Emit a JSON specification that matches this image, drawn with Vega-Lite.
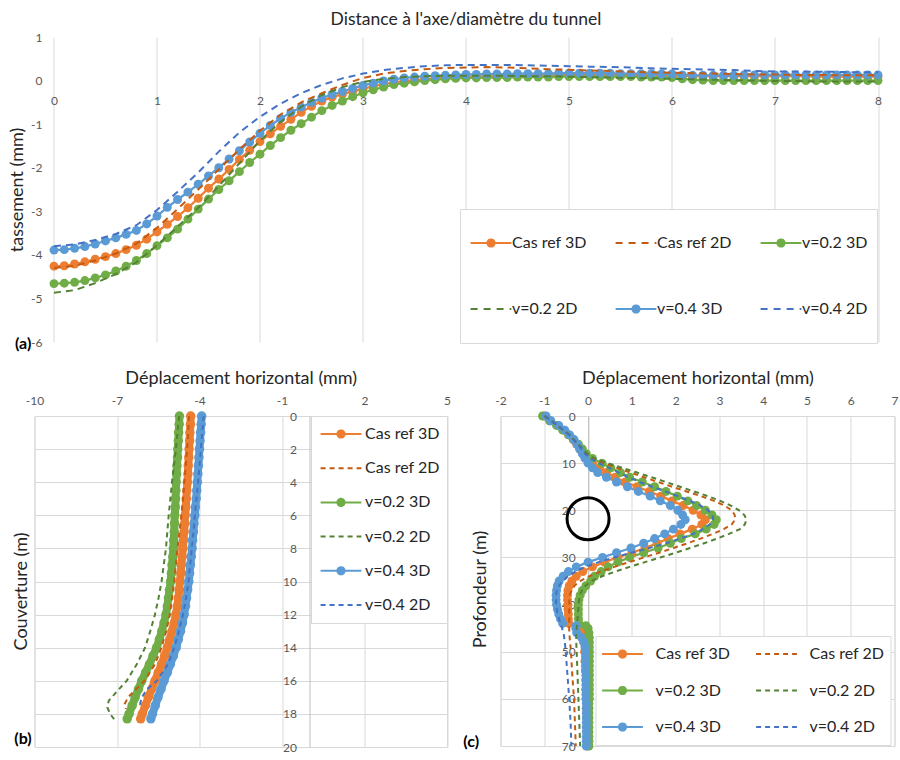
{
"$schema":"https://vega.github.io/schema/vega-lite/v6.json",
"background":"white",
"padding":{"left":8.5,"top":10,"right":2,"bottom":2},
"columns":1,
"align":"none",
"bounds":"full",
"spacing":15,
"resolve":{"scale":{"color":"independent"}},
"config":{
 "font":"Lato",
 "view":{"stroke":"#d9d9d9"},
 "axis":{"gridColor":"#d9d9d9","domainColor":"#bfbfbf","labelColor":"#595959","labelFontSize":12,"titleFontSize":18,"titleFontWeight":"normal","titleColor":"#262626","ticks":false,"tickSize":0,"labelFlush":false,"labelOverlap":false,"labelExpr":"datum.value < 0 ? '-' + abs(datum.value) : '' + datum.value"},
 "legend":{"labelFontSize":16,"labelColor":"#262626","strokeColor":"#d9d9d9","fillColor":"white","orient":"none","symbolSize":1600,"symbolStrokeWidth":2},
 "title":{"fontSize":17.5,"fontWeight":"normal","color":"#262626"}
},
"datasets":{
"a3":[
{"s":"Cas ref 3D","x":0,"y":-4.26},{"s":"Cas ref 3D","x":0.1,"y":-4.25},{"s":"Cas ref 3D","x":0.2,"y":-4.21},{"s":"Cas ref 3D","x":0.3,"y":-4.16},{"s":"Cas ref 3D","x":0.4,"y":-4.1},{"s":"Cas ref 3D","x":0.5,"y":-4.04},{"s":"Cas ref 3D","x":0.6,"y":-3.97},{"s":"Cas ref 3D","x":0.7,"y":-3.88},{"s":"Cas ref 3D","x":0.8,"y":-3.78},{"s":"Cas ref 3D","x":0.9,"y":-3.64},
{"s":"Cas ref 3D","x":1,"y":-3.47},{"s":"Cas ref 3D","x":1.1,"y":-3.3},{"s":"Cas ref 3D","x":1.2,"y":-3.12},{"s":"Cas ref 3D","x":1.3,"y":-2.92},{"s":"Cas ref 3D","x":1.4,"y":-2.7},{"s":"Cas ref 3D","x":1.5,"y":-2.47},{"s":"Cas ref 3D","x":1.6,"y":-2.26},{"s":"Cas ref 3D","x":1.7,"y":-2.04},{"s":"Cas ref 3D","x":1.8,"y":-1.81},{"s":"Cas ref 3D","x":1.9,"y":-1.6},
{"s":"Cas ref 3D","x":2,"y":-1.4},{"s":"Cas ref 3D","x":2.1,"y":-1.22},{"s":"Cas ref 3D","x":2.2,"y":-1.05},{"s":"Cas ref 3D","x":2.3,"y":-0.89},{"s":"Cas ref 3D","x":2.4,"y":-0.73},{"s":"Cas ref 3D","x":2.5,"y":-0.59},{"s":"Cas ref 3D","x":2.6,"y":-0.47},{"s":"Cas ref 3D","x":2.7,"y":-0.38},{"s":"Cas ref 3D","x":2.8,"y":-0.31},{"s":"Cas ref 3D","x":2.9,"y":-0.25},
{"s":"Cas ref 3D","x":3,"y":-0.19},{"s":"Cas ref 3D","x":3.1,"y":-0.13},{"s":"Cas ref 3D","x":3.2,"y":-0.08},{"s":"Cas ref 3D","x":3.3,"y":-0.04},{"s":"Cas ref 3D","x":3.4,"y":-0.01},{"s":"Cas ref 3D","x":3.5,"y":0.01},{"s":"Cas ref 3D","x":3.6,"y":0.03},{"s":"Cas ref 3D","x":3.7,"y":0.05},{"s":"Cas ref 3D","x":3.8,"y":0.06},{"s":"Cas ref 3D","x":3.9,"y":0.07},
{"s":"Cas ref 3D","x":4,"y":0.08},{"s":"Cas ref 3D","x":4.1,"y":0.09},{"s":"Cas ref 3D","x":4.2,"y":0.09},{"s":"Cas ref 3D","x":4.3,"y":0.1},{"s":"Cas ref 3D","x":4.4,"y":0.1},{"s":"Cas ref 3D","x":4.5,"y":0.11},{"s":"Cas ref 3D","x":4.6,"y":0.11},{"s":"Cas ref 3D","x":4.7,"y":0.12},{"s":"Cas ref 3D","x":4.8,"y":0.12},{"s":"Cas ref 3D","x":4.9,"y":0.12},
{"s":"Cas ref 3D","x":5,"y":0.13},{"s":"Cas ref 3D","x":5.1,"y":0.13},{"s":"Cas ref 3D","x":5.2,"y":0.13},{"s":"Cas ref 3D","x":5.3,"y":0.13},{"s":"Cas ref 3D","x":5.4,"y":0.13},{"s":"Cas ref 3D","x":5.5,"y":0.13},{"s":"Cas ref 3D","x":5.6,"y":0.13},{"s":"Cas ref 3D","x":5.7,"y":0.13},{"s":"Cas ref 3D","x":5.8,"y":0.12},{"s":"Cas ref 3D","x":5.9,"y":0.12},
{"s":"Cas ref 3D","x":6,"y":0.12},{"s":"Cas ref 3D","x":6.1,"y":0.11},{"s":"Cas ref 3D","x":6.2,"y":0.1},{"s":"Cas ref 3D","x":6.3,"y":0.1},{"s":"Cas ref 3D","x":6.4,"y":0.1},{"s":"Cas ref 3D","x":6.5,"y":0.1},{"s":"Cas ref 3D","x":6.6,"y":0.1},{"s":"Cas ref 3D","x":6.7,"y":0.1},{"s":"Cas ref 3D","x":6.8,"y":0.1},{"s":"Cas ref 3D","x":6.9,"y":0.1},
{"s":"Cas ref 3D","x":7,"y":0.1},{"s":"Cas ref 3D","x":7.1,"y":0.1},{"s":"Cas ref 3D","x":7.2,"y":0.1},{"s":"Cas ref 3D","x":7.3,"y":0.1},{"s":"Cas ref 3D","x":7.4,"y":0.09},{"s":"Cas ref 3D","x":7.5,"y":0.09},{"s":"Cas ref 3D","x":7.6,"y":0.09},{"s":"Cas ref 3D","x":7.7,"y":0.09},{"s":"Cas ref 3D","x":7.8,"y":0.09},{"s":"Cas ref 3D","x":7.9,"y":0.09},{"s":"Cas ref 3D","x":8,"y":0.09},
{"s":"v=0.2 3D","x":0,"y":-4.66},{"s":"v=0.2 3D","x":0.1,"y":-4.65},{"s":"v=0.2 3D","x":0.2,"y":-4.63},{"s":"v=0.2 3D","x":0.3,"y":-4.59},{"s":"v=0.2 3D","x":0.4,"y":-4.53},{"s":"v=0.2 3D","x":0.5,"y":-4.46},{"s":"v=0.2 3D","x":0.6,"y":-4.37},{"s":"v=0.2 3D","x":0.7,"y":-4.26},{"s":"v=0.2 3D","x":0.8,"y":-4.13},{"s":"v=0.2 3D","x":0.9,"y":-3.97},
{"s":"v=0.2 3D","x":1,"y":-3.79},{"s":"v=0.2 3D","x":1.1,"y":-3.61},{"s":"v=0.2 3D","x":1.2,"y":-3.41},{"s":"v=0.2 3D","x":1.3,"y":-3.18},{"s":"v=0.2 3D","x":1.4,"y":-2.95},{"s":"v=0.2 3D","x":1.5,"y":-2.72},{"s":"v=0.2 3D","x":1.6,"y":-2.5},{"s":"v=0.2 3D","x":1.7,"y":-2.3},{"s":"v=0.2 3D","x":1.8,"y":-2.09},{"s":"v=0.2 3D","x":1.9,"y":-1.88},
{"s":"v=0.2 3D","x":2,"y":-1.69},{"s":"v=0.2 3D","x":2.1,"y":-1.49},{"s":"v=0.2 3D","x":2.2,"y":-1.31},{"s":"v=0.2 3D","x":2.3,"y":-1.14},{"s":"v=0.2 3D","x":2.4,"y":-0.99},{"s":"v=0.2 3D","x":2.5,"y":-0.84},{"s":"v=0.2 3D","x":2.6,"y":-0.69},{"s":"v=0.2 3D","x":2.7,"y":-0.57},{"s":"v=0.2 3D","x":2.8,"y":-0.47},{"s":"v=0.2 3D","x":2.9,"y":-0.37},
{"s":"v=0.2 3D","x":3,"y":-0.28},{"s":"v=0.2 3D","x":3.1,"y":-0.21},{"s":"v=0.2 3D","x":3.2,"y":-0.15},{"s":"v=0.2 3D","x":3.3,"y":-0.09},{"s":"v=0.2 3D","x":3.4,"y":-0.06},{"s":"v=0.2 3D","x":3.5,"y":-0.03},{"s":"v=0.2 3D","x":3.6,"y":0},{"s":"v=0.2 3D","x":3.7,"y":0.02},{"s":"v=0.2 3D","x":3.8,"y":0.04},{"s":"v=0.2 3D","x":3.9,"y":0.05},
{"s":"v=0.2 3D","x":4,"y":0.06},{"s":"v=0.2 3D","x":4.1,"y":0.06},{"s":"v=0.2 3D","x":4.2,"y":0.07},{"s":"v=0.2 3D","x":4.3,"y":0.07},{"s":"v=0.2 3D","x":4.4,"y":0.07},{"s":"v=0.2 3D","x":4.5,"y":0.08},{"s":"v=0.2 3D","x":4.6,"y":0.08},{"s":"v=0.2 3D","x":4.7,"y":0.08},{"s":"v=0.2 3D","x":4.8,"y":0.08},{"s":"v=0.2 3D","x":4.9,"y":0.09},
{"s":"v=0.2 3D","x":5,"y":0.09},{"s":"v=0.2 3D","x":5.1,"y":0.09},{"s":"v=0.2 3D","x":5.2,"y":0.09},{"s":"v=0.2 3D","x":5.3,"y":0.09},{"s":"v=0.2 3D","x":5.4,"y":0.09},{"s":"v=0.2 3D","x":5.5,"y":0.09},{"s":"v=0.2 3D","x":5.6,"y":0.09},{"s":"v=0.2 3D","x":5.7,"y":0.08},{"s":"v=0.2 3D","x":5.8,"y":0.08},{"s":"v=0.2 3D","x":5.9,"y":0.08},
{"s":"v=0.2 3D","x":6,"y":0.07},{"s":"v=0.2 3D","x":6.1,"y":0.04},{"s":"v=0.2 3D","x":6.2,"y":0.02},{"s":"v=0.2 3D","x":6.3,"y":0.01},{"s":"v=0.2 3D","x":6.4,"y":0},{"s":"v=0.2 3D","x":6.5,"y":0},{"s":"v=0.2 3D","x":6.6,"y":0},{"s":"v=0.2 3D","x":6.7,"y":0},{"s":"v=0.2 3D","x":6.8,"y":0},{"s":"v=0.2 3D","x":6.9,"y":0},
{"s":"v=0.2 3D","x":7,"y":0},{"s":"v=0.2 3D","x":7.1,"y":0},{"s":"v=0.2 3D","x":7.2,"y":0},{"s":"v=0.2 3D","x":7.3,"y":0},{"s":"v=0.2 3D","x":7.4,"y":0},{"s":"v=0.2 3D","x":7.5,"y":0},{"s":"v=0.2 3D","x":7.6,"y":0},{"s":"v=0.2 3D","x":7.7,"y":0},{"s":"v=0.2 3D","x":7.8,"y":0},{"s":"v=0.2 3D","x":7.9,"y":0},{"s":"v=0.2 3D","x":8,"y":0},
{"s":"v=0.4 3D","x":0,"y":-3.89},{"s":"v=0.4 3D","x":0.1,"y":-3.88},{"s":"v=0.4 3D","x":0.2,"y":-3.85},{"s":"v=0.4 3D","x":0.3,"y":-3.81},{"s":"v=0.4 3D","x":0.4,"y":-3.75},{"s":"v=0.4 3D","x":0.5,"y":-3.68},{"s":"v=0.4 3D","x":0.6,"y":-3.61},{"s":"v=0.4 3D","x":0.7,"y":-3.53},{"s":"v=0.4 3D","x":0.8,"y":-3.44},{"s":"v=0.4 3D","x":0.9,"y":-3.29},
{"s":"v=0.4 3D","x":1,"y":-3.11},{"s":"v=0.4 3D","x":1.1,"y":-2.91},{"s":"v=0.4 3D","x":1.2,"y":-2.73},{"s":"v=0.4 3D","x":1.3,"y":-2.56},{"s":"v=0.4 3D","x":1.4,"y":-2.38},{"s":"v=0.4 3D","x":1.5,"y":-2.19},{"s":"v=0.4 3D","x":1.6,"y":-2},{"s":"v=0.4 3D","x":1.7,"y":-1.8},{"s":"v=0.4 3D","x":1.8,"y":-1.61},{"s":"v=0.4 3D","x":1.9,"y":-1.41},
{"s":"v=0.4 3D","x":2,"y":-1.21},{"s":"v=0.4 3D","x":2.1,"y":-1.03},{"s":"v=0.4 3D","x":2.2,"y":-0.87},{"s":"v=0.4 3D","x":2.3,"y":-0.73},{"s":"v=0.4 3D","x":2.4,"y":-0.61},{"s":"v=0.4 3D","x":2.5,"y":-0.5},{"s":"v=0.4 3D","x":2.6,"y":-0.4},{"s":"v=0.4 3D","x":2.7,"y":-0.32},{"s":"v=0.4 3D","x":2.8,"y":-0.25},{"s":"v=0.4 3D","x":2.9,"y":-0.18},
{"s":"v=0.4 3D","x":3,"y":-0.11},{"s":"v=0.4 3D","x":3.1,"y":-0.06},{"s":"v=0.4 3D","x":3.2,"y":-0.01},{"s":"v=0.4 3D","x":3.3,"y":0.03},{"s":"v=0.4 3D","x":3.4,"y":0.06},{"s":"v=0.4 3D","x":3.5,"y":0.08},{"s":"v=0.4 3D","x":3.6,"y":0.1},{"s":"v=0.4 3D","x":3.7,"y":0.11},{"s":"v=0.4 3D","x":3.8,"y":0.12},{"s":"v=0.4 3D","x":3.9,"y":0.13},
{"s":"v=0.4 3D","x":4,"y":0.14},{"s":"v=0.4 3D","x":4.1,"y":0.14},{"s":"v=0.4 3D","x":4.2,"y":0.15},{"s":"v=0.4 3D","x":4.3,"y":0.15},{"s":"v=0.4 3D","x":4.4,"y":0.15},{"s":"v=0.4 3D","x":4.5,"y":0.16},{"s":"v=0.4 3D","x":4.6,"y":0.16},{"s":"v=0.4 3D","x":4.7,"y":0.16},{"s":"v=0.4 3D","x":4.8,"y":0.16},{"s":"v=0.4 3D","x":4.9,"y":0.17},
{"s":"v=0.4 3D","x":5,"y":0.17},{"s":"v=0.4 3D","x":5.1,"y":0.17},{"s":"v=0.4 3D","x":5.2,"y":0.17},{"s":"v=0.4 3D","x":5.3,"y":0.17},{"s":"v=0.4 3D","x":5.4,"y":0.17},{"s":"v=0.4 3D","x":5.5,"y":0.16},{"s":"v=0.4 3D","x":5.6,"y":0.16},{"s":"v=0.4 3D","x":5.7,"y":0.16},{"s":"v=0.4 3D","x":5.8,"y":0.16},{"s":"v=0.4 3D","x":5.9,"y":0.15},
{"s":"v=0.4 3D","x":6,"y":0.15},{"s":"v=0.4 3D","x":6.1,"y":0.13},{"s":"v=0.4 3D","x":6.2,"y":0.12},{"s":"v=0.4 3D","x":6.3,"y":0.12},{"s":"v=0.4 3D","x":6.4,"y":0.12},{"s":"v=0.4 3D","x":6.5,"y":0.12},{"s":"v=0.4 3D","x":6.6,"y":0.12},{"s":"v=0.4 3D","x":6.7,"y":0.13},{"s":"v=0.4 3D","x":6.8,"y":0.13},{"s":"v=0.4 3D","x":6.9,"y":0.13},
{"s":"v=0.4 3D","x":7,"y":0.13},{"s":"v=0.4 3D","x":7.1,"y":0.13},{"s":"v=0.4 3D","x":7.2,"y":0.13},{"s":"v=0.4 3D","x":7.3,"y":0.13},{"s":"v=0.4 3D","x":7.4,"y":0.13},{"s":"v=0.4 3D","x":7.5,"y":0.13},{"s":"v=0.4 3D","x":7.6,"y":0.13},{"s":"v=0.4 3D","x":7.7,"y":0.13},{"s":"v=0.4 3D","x":7.8,"y":0.13},{"s":"v=0.4 3D","x":7.9,"y":0.13},{"s":"v=0.4 3D","x":8,"y":0.13}
],
"a2":[
{"s":"Cas ref 2D","x":0,"y":-4.3},{"s":"Cas ref 2D","x":0.2,"y":-4.25},{"s":"Cas ref 2D","x":0.4,"y":-4.13},{"s":"Cas ref 2D","x":0.6,"y":-3.97},{"s":"Cas ref 2D","x":0.8,"y":-3.74},{"s":"Cas ref 2D","x":1,"y":-3.38},{"s":"Cas ref 2D","x":1.2,"y":-2.95},{"s":"Cas ref 2D","x":1.4,"y":-2.5},{"s":"Cas ref 2D","x":1.6,"y":-2.04},{"s":"Cas ref 2D","x":1.8,"y":-1.58},
{"s":"Cas ref 2D","x":2,"y":-1.15},{"s":"Cas ref 2D","x":2.2,"y":-0.78},{"s":"Cas ref 2D","x":2.4,"y":-0.5},{"s":"Cas ref 2D","x":2.6,"y":-0.29},{"s":"Cas ref 2D","x":2.8,"y":-0.1},{"s":"Cas ref 2D","x":3,"y":0.06},{"s":"Cas ref 2D","x":3.2,"y":0.16},{"s":"Cas ref 2D","x":3.4,"y":0.22},{"s":"Cas ref 2D","x":3.6,"y":0.26},{"s":"Cas ref 2D","x":3.8,"y":0.29},
{"s":"Cas ref 2D","x":4,"y":0.3},{"s":"Cas ref 2D","x":4.2,"y":0.31},{"s":"Cas ref 2D","x":4.4,"y":0.3},{"s":"Cas ref 2D","x":4.6,"y":0.28},{"s":"Cas ref 2D","x":4.8,"y":0.26},{"s":"Cas ref 2D","x":5,"y":0.25},{"s":"Cas ref 2D","x":5.2,"y":0.23},{"s":"Cas ref 2D","x":5.4,"y":0.22},{"s":"Cas ref 2D","x":5.6,"y":0.2},{"s":"Cas ref 2D","x":5.8,"y":0.19},
{"s":"Cas ref 2D","x":6,"y":0.18},{"s":"Cas ref 2D","x":6.2,"y":0.17},{"s":"Cas ref 2D","x":6.4,"y":0.16},{"s":"Cas ref 2D","x":6.6,"y":0.15},{"s":"Cas ref 2D","x":6.8,"y":0.14},{"s":"Cas ref 2D","x":7,"y":0.14},{"s":"Cas ref 2D","x":7.2,"y":0.13},{"s":"Cas ref 2D","x":7.4,"y":0.13},{"s":"Cas ref 2D","x":7.6,"y":0.12},{"s":"Cas ref 2D","x":7.8,"y":0.12},{"s":"Cas ref 2D","x":8,"y":0.12},
{"s":"v=0.2 2D","x":0,"y":-4.87},{"s":"v=0.2 2D","x":0.2,"y":-4.81},{"s":"v=0.2 2D","x":0.4,"y":-4.65},{"s":"v=0.2 2D","x":0.6,"y":-4.44},{"s":"v=0.2 2D","x":0.8,"y":-4.17},{"s":"v=0.2 2D","x":1,"y":-3.78},{"s":"v=0.2 2D","x":1.2,"y":-3.35},{"s":"v=0.2 2D","x":1.4,"y":-2.92},{"s":"v=0.2 2D","x":1.6,"y":-2.42},{"s":"v=0.2 2D","x":1.8,"y":-1.9},
{"s":"v=0.2 2D","x":2,"y":-1.38},{"s":"v=0.2 2D","x":2.2,"y":-0.95},{"s":"v=0.2 2D","x":2.4,"y":-0.6},{"s":"v=0.2 2D","x":2.6,"y":-0.33},{"s":"v=0.2 2D","x":2.8,"y":-0.15},{"s":"v=0.2 2D","x":3,"y":-0.03},{"s":"v=0.2 2D","x":3.2,"y":0.04},{"s":"v=0.2 2D","x":3.4,"y":0.08},{"s":"v=0.2 2D","x":3.6,"y":0.1},{"s":"v=0.2 2D","x":3.8,"y":0.11},
{"s":"v=0.2 2D","x":4,"y":0.11},{"s":"v=0.2 2D","x":4.2,"y":0.11},{"s":"v=0.2 2D","x":4.4,"y":0.11},{"s":"v=0.2 2D","x":4.6,"y":0.1},{"s":"v=0.2 2D","x":4.8,"y":0.1},{"s":"v=0.2 2D","x":5,"y":0.09},{"s":"v=0.2 2D","x":5.2,"y":0.08},{"s":"v=0.2 2D","x":5.4,"y":0.07},{"s":"v=0.2 2D","x":5.6,"y":0.06},{"s":"v=0.2 2D","x":5.8,"y":0.05},
{"s":"v=0.2 2D","x":6,"y":0.04},{"s":"v=0.2 2D","x":6.2,"y":0.03},{"s":"v=0.2 2D","x":6.4,"y":0.02},{"s":"v=0.2 2D","x":6.6,"y":0.01},{"s":"v=0.2 2D","x":6.8,"y":0},{"s":"v=0.2 2D","x":7,"y":-0.01},{"s":"v=0.2 2D","x":7.2,"y":-0.01},{"s":"v=0.2 2D","x":7.4,"y":-0.02},{"s":"v=0.2 2D","x":7.6,"y":-0.02},{"s":"v=0.2 2D","x":7.8,"y":-0.02},{"s":"v=0.2 2D","x":8,"y":-0.02},
{"s":"v=0.4 2D","x":0,"y":-3.8},{"s":"v=0.4 2D","x":0.2,"y":-3.76},{"s":"v=0.4 2D","x":0.4,"y":-3.66},{"s":"v=0.4 2D","x":0.6,"y":-3.52},{"s":"v=0.4 2D","x":0.8,"y":-3.32},{"s":"v=0.4 2D","x":1,"y":-2.97},{"s":"v=0.4 2D","x":1.2,"y":-2.55},{"s":"v=0.4 2D","x":1.4,"y":-2.11},{"s":"v=0.4 2D","x":1.6,"y":-1.63},{"s":"v=0.4 2D","x":1.8,"y":-1.19},
{"s":"v=0.4 2D","x":2,"y":-0.83},{"s":"v=0.4 2D","x":2.2,"y":-0.53},{"s":"v=0.4 2D","x":2.4,"y":-0.29},{"s":"v=0.4 2D","x":2.6,"y":-0.1},{"s":"v=0.4 2D","x":2.8,"y":0.05},{"s":"v=0.4 2D","x":3,"y":0.16},{"s":"v=0.4 2D","x":3.2,"y":0.24},{"s":"v=0.4 2D","x":3.4,"y":0.29},{"s":"v=0.4 2D","x":3.6,"y":0.33},{"s":"v=0.4 2D","x":3.8,"y":0.35},
{"s":"v=0.4 2D","x":4,"y":0.36},{"s":"v=0.4 2D","x":4.2,"y":0.36},{"s":"v=0.4 2D","x":4.4,"y":0.36},{"s":"v=0.4 2D","x":4.6,"y":0.35},{"s":"v=0.4 2D","x":4.8,"y":0.34},{"s":"v=0.4 2D","x":5,"y":0.33},{"s":"v=0.4 2D","x":5.2,"y":0.32},{"s":"v=0.4 2D","x":5.4,"y":0.31},{"s":"v=0.4 2D","x":5.6,"y":0.3},{"s":"v=0.4 2D","x":5.8,"y":0.28},
{"s":"v=0.4 2D","x":6,"y":0.27},{"s":"v=0.4 2D","x":6.2,"y":0.26},{"s":"v=0.4 2D","x":6.4,"y":0.25},{"s":"v=0.4 2D","x":6.6,"y":0.24},{"s":"v=0.4 2D","x":6.8,"y":0.22},{"s":"v=0.4 2D","x":7,"y":0.21},{"s":"v=0.4 2D","x":7.2,"y":0.21},{"s":"v=0.4 2D","x":7.4,"y":0.2},{"s":"v=0.4 2D","x":7.6,"y":0.2},{"s":"v=0.4 2D","x":7.8,"y":0.19},{"s":"v=0.4 2D","x":8,"y":0.19}
],
"b3":[
{"s":"Cas ref 3D","d":0,"x":-4.32},{"s":"Cas ref 3D","d":0.5,"x":-4.33},{"s":"Cas ref 3D","d":1,"x":-4.35},{"s":"Cas ref 3D","d":1.5,"x":-4.36},{"s":"Cas ref 3D","d":2,"x":-4.38},{"s":"Cas ref 3D","d":2.5,"x":-4.39},{"s":"Cas ref 3D","d":3,"x":-4.41},{"s":"Cas ref 3D","d":3.5,"x":-4.42},{"s":"Cas ref 3D","d":4,"x":-4.44},{"s":"Cas ref 3D","d":4.5,"x":-4.46},
{"s":"Cas ref 3D","d":5,"x":-4.48},{"s":"Cas ref 3D","d":5.5,"x":-4.5},{"s":"Cas ref 3D","d":6,"x":-4.52},{"s":"Cas ref 3D","d":6.5,"x":-4.54},{"s":"Cas ref 3D","d":7,"x":-4.56},{"s":"Cas ref 3D","d":7.5,"x":-4.58},{"s":"Cas ref 3D","d":8,"x":-4.61},{"s":"Cas ref 3D","d":8.5,"x":-4.63},{"s":"Cas ref 3D","d":9,"x":-4.66},{"s":"Cas ref 3D","d":9.5,"x":-4.68},
{"s":"Cas ref 3D","d":10,"x":-4.71},{"s":"Cas ref 3D","d":10.5,"x":-4.74},{"s":"Cas ref 3D","d":11,"x":-4.77},{"s":"Cas ref 3D","d":11.5,"x":-4.81},{"s":"Cas ref 3D","d":12,"x":-4.86},{"s":"Cas ref 3D","d":12.5,"x":-4.92},{"s":"Cas ref 3D","d":13,"x":-5},{"s":"Cas ref 3D","d":13.5,"x":-5.08},{"s":"Cas ref 3D","d":14,"x":-5.17},{"s":"Cas ref 3D","d":14.5,"x":-5.27},
{"s":"Cas ref 3D","d":15,"x":-5.38},{"s":"Cas ref 3D","d":15.5,"x":-5.5},{"s":"Cas ref 3D","d":16,"x":-5.62},{"s":"Cas ref 3D","d":16.5,"x":-5.74},{"s":"Cas ref 3D","d":17,"x":-5.86},{"s":"Cas ref 3D","d":17.5,"x":-5.97},{"s":"Cas ref 3D","d":18,"x":-6.08},{"s":"Cas ref 3D","d":18.3,"x":-6.14},
{"s":"v=0.2 3D","d":0,"x":-4.73},{"s":"v=0.2 3D","d":0.5,"x":-4.74},{"s":"v=0.2 3D","d":1,"x":-4.76},{"s":"v=0.2 3D","d":1.5,"x":-4.77},{"s":"v=0.2 3D","d":2,"x":-4.79},{"s":"v=0.2 3D","d":2.5,"x":-4.8},{"s":"v=0.2 3D","d":3,"x":-4.82},{"s":"v=0.2 3D","d":3.5,"x":-4.83},{"s":"v=0.2 3D","d":4,"x":-4.85},{"s":"v=0.2 3D","d":4.5,"x":-4.86},
{"s":"v=0.2 3D","d":5,"x":-4.87},{"s":"v=0.2 3D","d":5.5,"x":-4.88},{"s":"v=0.2 3D","d":6,"x":-4.9},{"s":"v=0.2 3D","d":6.5,"x":-4.91},{"s":"v=0.2 3D","d":7,"x":-4.92},{"s":"v=0.2 3D","d":7.5,"x":-4.94},{"s":"v=0.2 3D","d":8,"x":-4.95},{"s":"v=0.2 3D","d":8.5,"x":-4.97},{"s":"v=0.2 3D","d":9,"x":-5},{"s":"v=0.2 3D","d":9.5,"x":-5.02},
{"s":"v=0.2 3D","d":10,"x":-5.05},{"s":"v=0.2 3D","d":10.5,"x":-5.09},{"s":"v=0.2 3D","d":11,"x":-5.13},{"s":"v=0.2 3D","d":11.5,"x":-5.17},{"s":"v=0.2 3D","d":12,"x":-5.22},{"s":"v=0.2 3D","d":12.5,"x":-5.29},{"s":"v=0.2 3D","d":13,"x":-5.37},{"s":"v=0.2 3D","d":13.5,"x":-5.46},{"s":"v=0.2 3D","d":14,"x":-5.56},{"s":"v=0.2 3D","d":14.5,"x":-5.69},
{"s":"v=0.2 3D","d":15,"x":-5.82},{"s":"v=0.2 3D","d":15.5,"x":-5.96},{"s":"v=0.2 3D","d":16,"x":-6.1},{"s":"v=0.2 3D","d":16.5,"x":-6.22},{"s":"v=0.2 3D","d":17,"x":-6.34},{"s":"v=0.2 3D","d":17.5,"x":-6.45},{"s":"v=0.2 3D","d":18,"x":-6.56},{"s":"v=0.2 3D","d":18.3,"x":-6.63},
{"s":"v=0.4 3D","d":0,"x":-3.92},{"s":"v=0.4 3D","d":0.5,"x":-3.94},{"s":"v=0.4 3D","d":1,"x":-3.96},{"s":"v=0.4 3D","d":1.5,"x":-3.98},{"s":"v=0.4 3D","d":2,"x":-4},{"s":"v=0.4 3D","d":2.5,"x":-4.02},{"s":"v=0.4 3D","d":3,"x":-4.04},{"s":"v=0.4 3D","d":3.5,"x":-4.06},{"s":"v=0.4 3D","d":4,"x":-4.08},{"s":"v=0.4 3D","d":4.5,"x":-4.1},
{"s":"v=0.4 3D","d":5,"x":-4.12},{"s":"v=0.4 3D","d":5.5,"x":-4.15},{"s":"v=0.4 3D","d":6,"x":-4.17},{"s":"v=0.4 3D","d":6.5,"x":-4.2},{"s":"v=0.4 3D","d":7,"x":-4.22},{"s":"v=0.4 3D","d":7.5,"x":-4.25},{"s":"v=0.4 3D","d":8,"x":-4.27},{"s":"v=0.4 3D","d":8.5,"x":-4.3},{"s":"v=0.4 3D","d":9,"x":-4.33},{"s":"v=0.4 3D","d":9.5,"x":-4.36},
{"s":"v=0.4 3D","d":10,"x":-4.39},{"s":"v=0.4 3D","d":10.5,"x":-4.43},{"s":"v=0.4 3D","d":11,"x":-4.47},{"s":"v=0.4 3D","d":11.5,"x":-4.51},{"s":"v=0.4 3D","d":12,"x":-4.56},{"s":"v=0.4 3D","d":12.5,"x":-4.62},{"s":"v=0.4 3D","d":13,"x":-4.69},{"s":"v=0.4 3D","d":13.5,"x":-4.77},{"s":"v=0.4 3D","d":14,"x":-4.85},{"s":"v=0.4 3D","d":14.5,"x":-4.95},
{"s":"v=0.4 3D","d":15,"x":-5.06},{"s":"v=0.4 3D","d":15.5,"x":-5.17},{"s":"v=0.4 3D","d":16,"x":-5.29},{"s":"v=0.4 3D","d":16.5,"x":-5.4},{"s":"v=0.4 3D","d":17,"x":-5.51},{"s":"v=0.4 3D","d":17.5,"x":-5.61},{"s":"v=0.4 3D","d":18,"x":-5.71},{"s":"v=0.4 3D","d":18.3,"x":-5.77}
],
"b2":[
{"s":"Cas ref 2D","d":0,"x":-4.38},{"s":"Cas ref 2D","d":1,"x":-4.41},{"s":"Cas ref 2D","d":2,"x":-4.45},{"s":"Cas ref 2D","d":3,"x":-4.5},{"s":"Cas ref 2D","d":4,"x":-4.55},{"s":"Cas ref 2D","d":5,"x":-4.6},{"s":"Cas ref 2D","d":6,"x":-4.66},{"s":"Cas ref 2D","d":7,"x":-4.73},{"s":"Cas ref 2D","d":8,"x":-4.8},{"s":"Cas ref 2D","d":9,"x":-4.86},{"s":"Cas ref 2D","d":10,"x":-4.92},
{"s":"Cas ref 2D","d":11,"x":-5},{"s":"Cas ref 2D","d":12,"x":-5.08},{"s":"Cas ref 2D","d":13,"x":-5.21},{"s":"Cas ref 2D","d":14,"x":-5.38},{"s":"Cas ref 2D","d":15,"x":-5.62},{"s":"Cas ref 2D","d":16,"x":-6},{"s":"Cas ref 2D","d":16.5,"x":-6.3},{"s":"Cas ref 2D","d":17,"x":-6.6},{"s":"Cas ref 2D","d":17.4,"x":-6.72},{"s":"Cas ref 2D","d":17.7,"x":-6.68},
{"s":"v=0.2 2D","d":0,"x":-4.74},{"s":"v=0.2 2D","d":1,"x":-4.8},{"s":"v=0.2 2D","d":2,"x":-4.86},{"s":"v=0.2 2D","d":3,"x":-4.93},{"s":"v=0.2 2D","d":4,"x":-5},{"s":"v=0.2 2D","d":5,"x":-5.06},{"s":"v=0.2 2D","d":6,"x":-5.12},{"s":"v=0.2 2D","d":7,"x":-5.17},{"s":"v=0.2 2D","d":8,"x":-5.22},{"s":"v=0.2 2D","d":9,"x":-5.3},{"s":"v=0.2 2D","d":10,"x":-5.38},
{"s":"v=0.2 2D","d":11,"x":-5.49},{"s":"v=0.2 2D","d":12,"x":-5.62},{"s":"v=0.2 2D","d":13,"x":-5.79},{"s":"v=0.2 2D","d":14,"x":-5.98},{"s":"v=0.2 2D","d":15,"x":-6.28},{"s":"v=0.2 2D","d":16,"x":-6.65},{"s":"v=0.2 2D","d":16.6,"x":-6.98},{"s":"v=0.2 2D","d":17.2,"x":-7.3},{"s":"v=0.2 2D","d":17.6,"x":-7.35},{"s":"v=0.2 2D","d":18,"x":-7.25},{"s":"v=0.2 2D","d":18.4,"x":-7.07},
{"s":"v=0.4 2D","d":0,"x":-3.85},{"s":"v=0.4 2D","d":1,"x":-3.9},{"s":"v=0.4 2D","d":2,"x":-3.95},{"s":"v=0.4 2D","d":3,"x":-4},{"s":"v=0.4 2D","d":4,"x":-4.05},{"s":"v=0.4 2D","d":5,"x":-4.11},{"s":"v=0.4 2D","d":6,"x":-4.17},{"s":"v=0.4 2D","d":7,"x":-4.22},{"s":"v=0.4 2D","d":8,"x":-4.28},{"s":"v=0.4 2D","d":9,"x":-4.34},{"s":"v=0.4 2D","d":10,"x":-4.4},
{"s":"v=0.4 2D","d":11,"x":-4.49},{"s":"v=0.4 2D","d":12,"x":-4.6},{"s":"v=0.4 2D","d":13,"x":-4.75},{"s":"v=0.4 2D","d":14,"x":-4.92},{"s":"v=0.4 2D","d":15,"x":-5.15},{"s":"v=0.4 2D","d":16,"x":-5.55},{"s":"v=0.4 2D","d":16.5,"x":-5.9},{"s":"v=0.4 2D","d":17,"x":-6.1},{"s":"v=0.4 2D","d":17.4,"x":-6.16},{"s":"v=0.4 2D","d":17.7,"x":-6.1}
],
"c3":[
{"s":"Cas ref 3D","d":0,"x":-1},{"s":"Cas ref 3D","d":1,"x":-0.87},{"s":"Cas ref 3D","d":2,"x":-0.7},{"s":"Cas ref 3D","d":3,"x":-0.56},{"s":"Cas ref 3D","d":4,"x":-0.44},{"s":"Cas ref 3D","d":5,"x":-0.34},{"s":"Cas ref 3D","d":6,"x":-0.26},{"s":"Cas ref 3D","d":7,"x":-0.19},{"s":"Cas ref 3D","d":8,"x":-0.11},{"s":"Cas ref 3D","d":9,"x":-0.02},
{"s":"Cas ref 3D","d":10,"x":0.1},{"s":"Cas ref 3D","d":11,"x":0.26},{"s":"Cas ref 3D","d":12,"x":0.42},{"s":"Cas ref 3D","d":13,"x":0.62},{"s":"Cas ref 3D","d":14,"x":0.85},{"s":"Cas ref 3D","d":15,"x":1.12},{"s":"Cas ref 3D","d":16,"x":1.4},{"s":"Cas ref 3D","d":17,"x":1.66},{"s":"Cas ref 3D","d":18,"x":1.92},{"s":"Cas ref 3D","d":19,"x":2.17},
{"s":"Cas ref 3D","d":20,"x":2.4},{"s":"Cas ref 3D","d":21,"x":2.58},{"s":"Cas ref 3D","d":22,"x":2.68},{"s":"Cas ref 3D","d":23,"x":2.6},{"s":"Cas ref 3D","d":24,"x":2.38},{"s":"Cas ref 3D","d":25,"x":2.1},{"s":"Cas ref 3D","d":26,"x":1.83},{"s":"Cas ref 3D","d":27,"x":1.58},{"s":"Cas ref 3D","d":28,"x":1.3},{"s":"Cas ref 3D","d":29,"x":1},
{"s":"Cas ref 3D","d":30,"x":0.68},{"s":"Cas ref 3D","d":31,"x":0.37},{"s":"Cas ref 3D","d":32,"x":0.1},{"s":"Cas ref 3D","d":33,"x":-0.12},{"s":"Cas ref 3D","d":34,"x":-0.27},{"s":"Cas ref 3D","d":35,"x":-0.37},{"s":"Cas ref 3D","d":36,"x":-0.43},{"s":"Cas ref 3D","d":37,"x":-0.46},{"s":"Cas ref 3D","d":38,"x":-0.47},{"s":"Cas ref 3D","d":39,"x":-0.47},
{"s":"Cas ref 3D","d":40,"x":-0.46},{"s":"Cas ref 3D","d":41,"x":-0.46},{"s":"Cas ref 3D","d":42,"x":-0.45},{"s":"Cas ref 3D","d":43,"x":-0.45},{"s":"Cas ref 3D","d":44,"x":-0.44},{"s":"Cas ref 3D","d":44.5,"x":-0.18},{"s":"Cas ref 3D","d":46,"x":-0.14},{"s":"Cas ref 3D","d":48,"x":-0.1},{"s":"Cas ref 3D","d":50,"x":-0.08},{"s":"Cas ref 3D","d":52,"x":-0.07},
{"s":"Cas ref 3D","d":54,"x":-0.06},{"s":"Cas ref 3D","d":56,"x":-0.05},{"s":"Cas ref 3D","d":58,"x":-0.05},{"s":"Cas ref 3D","d":60,"x":-0.04},{"s":"Cas ref 3D","d":62,"x":-0.04},{"s":"Cas ref 3D","d":64,"x":-0.03},{"s":"Cas ref 3D","d":66,"x":-0.03},{"s":"Cas ref 3D","d":68,"x":-0.02},{"s":"Cas ref 3D","d":70,"x":-0.02},
{"s":"v=0.2 3D","d":0,"x":-1.04},{"s":"v=0.2 3D","d":1,"x":-0.88},{"s":"v=0.2 3D","d":2,"x":-0.72},{"s":"v=0.2 3D","d":3,"x":-0.58},{"s":"v=0.2 3D","d":4,"x":-0.45},{"s":"v=0.2 3D","d":5,"x":-0.33},{"s":"v=0.2 3D","d":6,"x":-0.22},{"s":"v=0.2 3D","d":7,"x":-0.13},{"s":"v=0.2 3D","d":8,"x":-0.04},{"s":"v=0.2 3D","d":9,"x":0.1},
{"s":"v=0.2 3D","d":10,"x":0.32},{"s":"v=0.2 3D","d":11,"x":0.52},{"s":"v=0.2 3D","d":12,"x":0.74},{"s":"v=0.2 3D","d":13,"x":0.95},{"s":"v=0.2 3D","d":14,"x":1.24},{"s":"v=0.2 3D","d":15,"x":1.52},{"s":"v=0.2 3D","d":16,"x":1.78},{"s":"v=0.2 3D","d":17,"x":2.04},{"s":"v=0.2 3D","d":18,"x":2.28},{"s":"v=0.2 3D","d":19,"x":2.48},
{"s":"v=0.2 3D","d":20,"x":2.68},{"s":"v=0.2 3D","d":21,"x":2.83},{"s":"v=0.2 3D","d":22,"x":2.93},{"s":"v=0.2 3D","d":23,"x":2.88},{"s":"v=0.2 3D","d":24,"x":2.7},{"s":"v=0.2 3D","d":25,"x":2.45},{"s":"v=0.2 3D","d":26,"x":2.13},{"s":"v=0.2 3D","d":27,"x":1.88},{"s":"v=0.2 3D","d":28,"x":1.6},{"s":"v=0.2 3D","d":29,"x":1.27},
{"s":"v=0.2 3D","d":30,"x":0.95},{"s":"v=0.2 3D","d":31,"x":0.68},{"s":"v=0.2 3D","d":32,"x":0.46},{"s":"v=0.2 3D","d":33,"x":0.3},{"s":"v=0.2 3D","d":34,"x":0.15},{"s":"v=0.2 3D","d":35,"x":0.06},{"s":"v=0.2 3D","d":36,"x":-0.05},{"s":"v=0.2 3D","d":37,"x":-0.13},{"s":"v=0.2 3D","d":38,"x":-0.18},{"s":"v=0.2 3D","d":39,"x":-0.21},
{"s":"v=0.2 3D","d":40,"x":-0.22},{"s":"v=0.2 3D","d":41,"x":-0.22},{"s":"v=0.2 3D","d":42,"x":-0.22},{"s":"v=0.2 3D","d":43,"x":-0.22},{"s":"v=0.2 3D","d":44,"x":-0.21},{"s":"v=0.2 3D","d":44.5,"x":-0.05},{"s":"v=0.2 3D","d":45,"x":0},{"s":"v=0.2 3D","d":46,"x":0.02},{"s":"v=0.2 3D","d":47,"x":0.03},{"s":"v=0.2 3D","d":48,"x":0.03},
{"s":"v=0.2 3D","d":49,"x":0.03},{"s":"v=0.2 3D","d":50,"x":0.03},{"s":"v=0.2 3D","d":51,"x":0.03},{"s":"v=0.2 3D","d":52,"x":0.03},{"s":"v=0.2 3D","d":53,"x":0.03},{"s":"v=0.2 3D","d":54,"x":0.03},{"s":"v=0.2 3D","d":55,"x":0.03},{"s":"v=0.2 3D","d":56,"x":0.03},{"s":"v=0.2 3D","d":57,"x":0.03},{"s":"v=0.2 3D","d":58,"x":0.03},
{"s":"v=0.2 3D","d":59,"x":0.03},{"s":"v=0.2 3D","d":60,"x":0.03},{"s":"v=0.2 3D","d":61,"x":0.02},{"s":"v=0.2 3D","d":62,"x":0.02},{"s":"v=0.2 3D","d":63,"x":0.02},{"s":"v=0.2 3D","d":64,"x":0.02},{"s":"v=0.2 3D","d":65,"x":0.02},{"s":"v=0.2 3D","d":66,"x":0.02},{"s":"v=0.2 3D","d":67,"x":0.02},{"s":"v=0.2 3D","d":68,"x":0.02},{"s":"v=0.2 3D","d":69,"x":0.02},{"s":"v=0.2 3D","d":70,"x":0.02},
{"s":"v=0.4 3D","d":0,"x":-0.96},{"s":"v=0.4 3D","d":1,"x":-0.85},{"s":"v=0.4 3D","d":2,"x":-0.67},{"s":"v=0.4 3D","d":3,"x":-0.53},{"s":"v=0.4 3D","d":4,"x":-0.42},{"s":"v=0.4 3D","d":5,"x":-0.32},{"s":"v=0.4 3D","d":6,"x":-0.25},{"s":"v=0.4 3D","d":7,"x":-0.19},{"s":"v=0.4 3D","d":8,"x":-0.13},{"s":"v=0.4 3D","d":9,"x":-0.07},
{"s":"v=0.4 3D","d":10,"x":0},{"s":"v=0.4 3D","d":11,"x":0.1},{"s":"v=0.4 3D","d":12,"x":0.22},{"s":"v=0.4 3D","d":13,"x":0.42},{"s":"v=0.4 3D","d":14,"x":0.65},{"s":"v=0.4 3D","d":15,"x":0.9},{"s":"v=0.4 3D","d":16,"x":1.15},{"s":"v=0.4 3D","d":17,"x":1.42},{"s":"v=0.4 3D","d":18,"x":1.65},{"s":"v=0.4 3D","d":19,"x":1.88},
{"s":"v=0.4 3D","d":20,"x":2.05},{"s":"v=0.4 3D","d":21,"x":2.16},{"s":"v=0.4 3D","d":22,"x":2.22},{"s":"v=0.4 3D","d":23,"x":2.12},{"s":"v=0.4 3D","d":24,"x":1.95},{"s":"v=0.4 3D","d":25,"x":1.75},{"s":"v=0.4 3D","d":26,"x":1.52},{"s":"v=0.4 3D","d":27,"x":1.27},{"s":"v=0.4 3D","d":28,"x":0.98},{"s":"v=0.4 3D","d":29,"x":0.65},
{"s":"v=0.4 3D","d":30,"x":0.33},{"s":"v=0.4 3D","d":31,"x":0},{"s":"v=0.4 3D","d":32,"x":-0.27},{"s":"v=0.4 3D","d":33,"x":-0.45},{"s":"v=0.4 3D","d":34,"x":-0.57},{"s":"v=0.4 3D","d":35,"x":-0.66},{"s":"v=0.4 3D","d":36,"x":-0.7},{"s":"v=0.4 3D","d":37,"x":-0.72},{"s":"v=0.4 3D","d":38,"x":-0.73},{"s":"v=0.4 3D","d":39,"x":-0.73},
{"s":"v=0.4 3D","d":40,"x":-0.72},{"s":"v=0.4 3D","d":41,"x":-0.7},{"s":"v=0.4 3D","d":42,"x":-0.67},{"s":"v=0.4 3D","d":43,"x":-0.63},{"s":"v=0.4 3D","d":44,"x":-0.58},{"s":"v=0.4 3D","d":44.5,"x":-0.27},{"s":"v=0.4 3D","d":45,"x":-0.28},{"s":"v=0.4 3D","d":46,"x":-0.26},{"s":"v=0.4 3D","d":47,"x":-0.15},{"s":"v=0.4 3D","d":48,"x":-0.09},
{"s":"v=0.4 3D","d":49,"x":-0.07},{"s":"v=0.4 3D","d":50,"x":-0.06},{"s":"v=0.4 3D","d":51,"x":-0.06},{"s":"v=0.4 3D","d":52,"x":-0.06},{"s":"v=0.4 3D","d":53,"x":-0.06},{"s":"v=0.4 3D","d":54,"x":-0.06},{"s":"v=0.4 3D","d":55,"x":-0.05},{"s":"v=0.4 3D","d":56,"x":-0.05},{"s":"v=0.4 3D","d":57,"x":-0.05},{"s":"v=0.4 3D","d":58,"x":-0.05},
{"s":"v=0.4 3D","d":59,"x":-0.05},{"s":"v=0.4 3D","d":60,"x":-0.05},{"s":"v=0.4 3D","d":61,"x":-0.04},{"s":"v=0.4 3D","d":62,"x":-0.04},{"s":"v=0.4 3D","d":63,"x":-0.04},{"s":"v=0.4 3D","d":64,"x":-0.04},{"s":"v=0.4 3D","d":65,"x":-0.04},{"s":"v=0.4 3D","d":66,"x":-0.04},{"s":"v=0.4 3D","d":67,"x":-0.04},{"s":"v=0.4 3D","d":68,"x":-0.04},{"s":"v=0.4 3D","d":69,"x":-0.04},{"s":"v=0.4 3D","d":70,"x":-0.04}
],
"c2":[
{"s":"Cas ref 2D","d":0,"x":-1},{"s":"Cas ref 2D","d":2,"x":-0.7},{"s":"Cas ref 2D","d":4,"x":-0.43},{"s":"Cas ref 2D","d":6,"x":-0.23},{"s":"Cas ref 2D","d":8,"x":-0.04},{"s":"Cas ref 2D","d":9,"x":0.1},{"s":"Cas ref 2D","d":10,"x":0.36},{"s":"Cas ref 2D","d":11,"x":0.66},{"s":"Cas ref 2D","d":12,"x":0.97},{"s":"Cas ref 2D","d":13,"x":1.28},
{"s":"Cas ref 2D","d":14,"x":1.6},{"s":"Cas ref 2D","d":15,"x":1.92},{"s":"Cas ref 2D","d":16,"x":2.25},{"s":"Cas ref 2D","d":17,"x":2.58},{"s":"Cas ref 2D","d":18,"x":2.88},{"s":"Cas ref 2D","d":19,"x":3.12},{"s":"Cas ref 2D","d":20,"x":3.28},{"s":"Cas ref 2D","d":21,"x":3.35},{"s":"Cas ref 2D","d":22,"x":3.36},{"s":"Cas ref 2D","d":23,"x":3.28},
{"s":"Cas ref 2D","d":24,"x":3.1},{"s":"Cas ref 2D","d":25,"x":2.85},{"s":"Cas ref 2D","d":26,"x":2.57},{"s":"Cas ref 2D","d":27,"x":2.27},{"s":"Cas ref 2D","d":28,"x":1.95},{"s":"Cas ref 2D","d":29,"x":1.62},{"s":"Cas ref 2D","d":30,"x":1.28},{"s":"Cas ref 2D","d":31,"x":0.94},{"s":"Cas ref 2D","d":32,"x":0.6},{"s":"Cas ref 2D","d":33,"x":0.28},
{"s":"Cas ref 2D","d":34,"x":0.02},{"s":"Cas ref 2D","d":35,"x":-0.18},{"s":"Cas ref 2D","d":36,"x":-0.31},{"s":"Cas ref 2D","d":37,"x":-0.38},{"s":"Cas ref 2D","d":38,"x":-0.42},{"s":"Cas ref 2D","d":40,"x":-0.43},{"s":"Cas ref 2D","d":42,"x":-0.43},{"s":"Cas ref 2D","d":44,"x":-0.43},{"s":"Cas ref 2D","d":46,"x":-0.43},{"s":"Cas ref 2D","d":48,"x":-0.41},
{"s":"Cas ref 2D","d":50,"x":-0.39},{"s":"Cas ref 2D","d":55,"x":-0.36},{"s":"Cas ref 2D","d":60,"x":-0.32},{"s":"Cas ref 2D","d":65,"x":-0.3},{"s":"Cas ref 2D","d":70,"x":-0.28},
{"s":"v=0.2 2D","d":0,"x":-1},{"s":"v=0.2 2D","d":2,"x":-0.7},{"s":"v=0.2 2D","d":4,"x":-0.42},{"s":"v=0.2 2D","d":6,"x":-0.22},{"s":"v=0.2 2D","d":8,"x":-0.02},{"s":"v=0.2 2D","d":9,"x":0.15},{"s":"v=0.2 2D","d":10,"x":0.45},{"s":"v=0.2 2D","d":11,"x":0.78},{"s":"v=0.2 2D","d":12,"x":1.12},{"s":"v=0.2 2D","d":13,"x":1.45},
{"s":"v=0.2 2D","d":14,"x":1.78},{"s":"v=0.2 2D","d":15,"x":2.1},{"s":"v=0.2 2D","d":16,"x":2.42},{"s":"v=0.2 2D","d":17,"x":2.74},{"s":"v=0.2 2D","d":18,"x":3.02},{"s":"v=0.2 2D","d":19,"x":3.26},{"s":"v=0.2 2D","d":20,"x":3.45},{"s":"v=0.2 2D","d":21,"x":3.57},{"s":"v=0.2 2D","d":22,"x":3.62},{"s":"v=0.2 2D","d":23,"x":3.58},
{"s":"v=0.2 2D","d":24,"x":3.47},{"s":"v=0.2 2D","d":25,"x":3.22},{"s":"v=0.2 2D","d":26,"x":2.95},{"s":"v=0.2 2D","d":27,"x":2.65},{"s":"v=0.2 2D","d":28,"x":2.33},{"s":"v=0.2 2D","d":29,"x":2},{"s":"v=0.2 2D","d":30,"x":1.65},{"s":"v=0.2 2D","d":31,"x":1.3},{"s":"v=0.2 2D","d":32,"x":0.95},{"s":"v=0.2 2D","d":33,"x":0.62},
{"s":"v=0.2 2D","d":34,"x":0.32},{"s":"v=0.2 2D","d":35,"x":0.08},{"s":"v=0.2 2D","d":36,"x":-0.06},{"s":"v=0.2 2D","d":37,"x":-0.14},{"s":"v=0.2 2D","d":38,"x":-0.19},{"s":"v=0.2 2D","d":40,"x":-0.22},{"s":"v=0.2 2D","d":42,"x":-0.23},{"s":"v=0.2 2D","d":44,"x":-0.25},{"s":"v=0.2 2D","d":46,"x":-0.27},{"s":"v=0.2 2D","d":48,"x":-0.27},
{"s":"v=0.2 2D","d":50,"x":-0.26},{"s":"v=0.2 2D","d":55,"x":-0.24},{"s":"v=0.2 2D","d":60,"x":-0.22},{"s":"v=0.2 2D","d":65,"x":-0.2},{"s":"v=0.2 2D","d":70,"x":-0.18},
{"s":"v=0.4 2D","d":0,"x":-0.98},{"s":"v=0.4 2D","d":2,"x":-0.69},{"s":"v=0.4 2D","d":4,"x":-0.43},{"s":"v=0.4 2D","d":6,"x":-0.24},{"s":"v=0.4 2D","d":8,"x":-0.07},{"s":"v=0.4 2D","d":9,"x":0.05},{"s":"v=0.4 2D","d":10,"x":0.25},{"s":"v=0.4 2D","d":11,"x":0.48},{"s":"v=0.4 2D","d":12,"x":0.7},{"s":"v=0.4 2D","d":13,"x":0.92},
{"s":"v=0.4 2D","d":14,"x":1.18},{"s":"v=0.4 2D","d":15,"x":1.46},{"s":"v=0.4 2D","d":16,"x":1.76},{"s":"v=0.4 2D","d":17,"x":2.05},{"s":"v=0.4 2D","d":18,"x":2.33},{"s":"v=0.4 2D","d":19,"x":2.57},{"s":"v=0.4 2D","d":20,"x":2.74},{"s":"v=0.4 2D","d":21,"x":2.84},{"s":"v=0.4 2D","d":22,"x":2.86},{"s":"v=0.4 2D","d":23,"x":2.78},
{"s":"v=0.4 2D","d":24,"x":2.62},{"s":"v=0.4 2D","d":25,"x":2.4},{"s":"v=0.4 2D","d":26,"x":2.1},{"s":"v=0.4 2D","d":27,"x":1.78},{"s":"v=0.4 2D","d":28,"x":1.4},{"s":"v=0.4 2D","d":29,"x":0.99},{"s":"v=0.4 2D","d":30,"x":0.6},{"s":"v=0.4 2D","d":31,"x":0.24},{"s":"v=0.4 2D","d":32,"x":-0.06},{"s":"v=0.4 2D","d":33,"x":-0.29},
{"s":"v=0.4 2D","d":34,"x":-0.46},{"s":"v=0.4 2D","d":35,"x":-0.58},{"s":"v=0.4 2D","d":36,"x":-0.66},{"s":"v=0.4 2D","d":37,"x":-0.71},{"s":"v=0.4 2D","d":38,"x":-0.73},{"s":"v=0.4 2D","d":40,"x":-0.73},{"s":"v=0.4 2D","d":42,"x":-0.7},{"s":"v=0.4 2D","d":44,"x":-0.63},{"s":"v=0.4 2D","d":46,"x":-0.56},{"s":"v=0.4 2D","d":48,"x":-0.53},
{"s":"v=0.4 2D","d":50,"x":-0.51},{"s":"v=0.4 2D","d":55,"x":-0.47},{"s":"v=0.4 2D","d":60,"x":-0.43},{"s":"v=0.4 2D","d":65,"x":-0.4},{"s":"v=0.4 2D","d":70,"x":-0.38}
]
},
"concat":[
{
 "width":843.5,"height":305,
 "view":{"stroke":null},
 "title":{"text":"Distance à l'axe/diamètre du tunnel","frame":"group","offset":3,"dx":9.75},
 "encoding":{
  "x":{"field":"x","type":"quantitative","scale":{"domain":[-0.1893,8],"nice":false,"zero":false},"axis":{"values":[0,1,2,3,4,5,6,7,8],"offset":-261.4,"title":null,"labelPadding":14.5,"grid":true,"domain":false}},
  "y":{"field":"y","type":"quantitative","scale":{"domain":[-6,1],"nice":false,"zero":false},"axis":{"values":[-6,-5,-4,-3,-2,-1,0,1],"offset":-19.5,"title":"tassement (mm)","labelPadding":12,"titlePadding":4,"grid":false,"domain":false}}
 },
 "layer":[
  {"data":{"values":[{"y":-6},{"y":-5},{"y":-4},{"y":-3},{"y":-2},{"y":-1},{"y":0},{"y":1}]},"mark":{"type":"rule","strokeWidth":1},
   "encoding":{"x":{"datum":0},"x2":{"datum":8},"y":{"field":"y","type":"quantitative"},"color":{"condition":{"test":"datum.y === 0","value":"#bfbfbf"},"value":"#d9d9d9"}}},
  {"data":{"name":"a3"},"mark":{"type":"line","strokeWidth":2.25},
   "encoding":{"color":{"field":"s","type":"nominal","scale":{"domain":["Cas ref 3D","Cas ref 2D","v=0.2 3D","v=0.2 2D","v=0.4 3D","v=0.4 2D"],"range":["#ED7D31","#C55A11","#70AD47","#548235","#5B9BD5","#4472C4"]},
    "legend":{"title":null,"direction":"horizontal","columns":3,"legendX":425.5,"legendY":172,"padding":9,"clipHeight":50,"rowPadding":16,"columnPadding":27,"labelOffset":0,"symbolOffset":1,
     "encode":{"symbols":{"update":{
      "shape":{"signal":"indexof(datum.value,'3D')>=0 ? 'M-1.02,0H1.02M-0.18,0A0.18,0.18,0,1,1,0.18,0A0.18,0.18,0,1,1,-0.18,0' : 'M-1.02,0H1.02'"},
      "size":{"value":1600},"strokeWidth":{"value":2},"opacity":{"value":1},
      "strokeDash":{"signal":"indexof(datum.value,'3D')>=0 ? [1,0] : [7,6]"},
      "fill":{"signal":"indexof(datum.value,'2D')>=0 ? 'transparent' : indexof(datum.value,'ref')>=0 ? '#ED7D31' : indexof(datum.value,'0.2')>=0 ? '#70AD47' : '#5B9BD5'"},
      "stroke":{"signal":"indexof(datum.value,'ref')>=0 ? (indexof(datum.value,'3D')>=0 ? '#ED7D31' : '#C55A11') : indexof(datum.value,'0.2')>=0 ? (indexof(datum.value,'3D')>=0 ? '#70AD47' : '#548235') : (indexof(datum.value,'3D')>=0 ? '#5B9BD5' : '#4472C4')"}
     }}}}}}},
  {"data":{"name":"a3"},"mark":{"type":"point","filled":true,"size":80,"opacity":1,"shape":"circle","strokeWidth":0},
   "encoding":{"color":{"field":"s","type":"nominal","scale":{"domain":["Cas ref 3D","Cas ref 2D","v=0.2 3D","v=0.2 2D","v=0.4 3D","v=0.4 2D"],"range":["#ED7D31","#C55A11","#70AD47","#548235","#5B9BD5","#4472C4"]}}}},
  {"data":{"name":"a2"},"mark":{"type":"line","strokeWidth":2,"strokeDash":[7,5]},
   "encoding":{"color":{"field":"s","type":"nominal","scale":{"domain":["Cas ref 3D","Cas ref 2D","v=0.2 3D","v=0.2 2D","v=0.4 3D","v=0.4 2D"],"range":["#ED7D31","#C55A11","#70AD47","#548235","#5B9BD5","#4472C4"]}}}},
  {"data":{"values":[{"x":-0.3,"y":-6.05,"t":"(a)"}]},"mark":{"type":"text","fontWeight":"bold","fontSize":16,"color":"black"},"encoding":{"text":{"field":"t"}}}
 ]
},
{"hconcat":[
 {
  "width":412.5,"height":331,
  "encoding":{
   "x":{"field":"x","type":"quantitative","scale":{"domain":[-10,5],"nice":false,"zero":false},"axis":{"orient":"top","values":[-10,-7,-4,-1,2,5],"title":"Déplacement horizontal (mm)","labelPadding":9,"titlePadding":7,"grid":true,"domain":false}},
   "y":{"field":"d","type":"quantitative","scale":{"domain":[0,20],"reverse":true,"nice":false,"zero":false},"axis":{"values":[0,2,4,6,8,10,12,14,16,18,20],"offset":-275,"title":"Couverture (m)","titleX":-279,"titleY":175,"labelPadding":13,"grid":true,"domain":true}}
  },
  "layer":[
   {"data":{"name":"b3"},"mark":{"type":"line","strokeWidth":8},
    "encoding":{"order":{"field":"d","type":"quantitative"},"color":{"field":"s","type":"nominal","scale":{"domain":["Cas ref 3D","Cas ref 2D","v=0.2 3D","v=0.2 2D","v=0.4 3D","v=0.4 2D"],"range":["#ED7D31","#C55A11","#70AD47","#548235","#5B9BD5","#4472C4"]},
     "legend":{"title":null,"columns":1,"legendX":276.5,"legendY":0,"padding":7,"clipHeight":22,"rowPadding":12.2,"labelOffset":3,"symbolOffset":2,
      "encode":{"symbols":{"update":{
       "shape":{"signal":"indexof(datum.value,'3D')>=0 ? 'M-1.02,0H1.02M-0.18,0A0.18,0.18,0,1,1,0.18,0A0.18,0.18,0,1,1,-0.18,0' : 'M-1.02,0H1.02'"},
       "size":{"value":1600},"strokeWidth":{"value":2},"opacity":{"value":1},
       "strokeDash":{"signal":"indexof(datum.value,'3D')>=0 ? [1,0] : [5,4]"},
       "fill":{"signal":"indexof(datum.value,'2D')>=0 ? 'transparent' : indexof(datum.value,'ref')>=0 ? '#ED7D31' : indexof(datum.value,'0.2')>=0 ? '#70AD47' : '#5B9BD5'"},
       "stroke":{"signal":"indexof(datum.value,'ref')>=0 ? (indexof(datum.value,'3D')>=0 ? '#ED7D31' : '#C55A11') : indexof(datum.value,'0.2')>=0 ? (indexof(datum.value,'3D')>=0 ? '#70AD47' : '#548235') : (indexof(datum.value,'3D')>=0 ? '#5B9BD5' : '#4472C4')"}
      }}}}}}},
   {"data":{"name":"b3"},"mark":{"type":"point","filled":true,"size":90,"opacity":1,"shape":"circle","strokeWidth":0},
    "encoding":{"color":{"field":"s","type":"nominal","scale":{"domain":["Cas ref 3D","Cas ref 2D","v=0.2 3D","v=0.2 2D","v=0.4 3D","v=0.4 2D"],"range":["#ED7D31","#C55A11","#70AD47","#548235","#5B9BD5","#4472C4"]}}}},
   {"data":{"name":"b2"},"mark":{"type":"line","strokeWidth":2,"strokeDash":[5,4]},
    "encoding":{"order":{"field":"d","type":"quantitative"},"color":{"field":"s","type":"nominal","scale":{"domain":["Cas ref 3D","Cas ref 2D","v=0.2 3D","v=0.2 2D","v=0.4 3D","v=0.4 2D"],"range":["#ED7D31","#C55A11","#70AD47","#548235","#5B9BD5","#4472C4"]}}}},
   {"data":{"values":[{"x":-10.42,"d":19.5,"t":"(b)"}]},"mark":{"type":"text","fontWeight":"bold","fontSize":16,"color":"black"},"encoding":{"text":{"field":"t"}}}
  ]
 },
 {
  "width":394,"height":330,
  "encoding":{
   "x":{"field":"x","type":"quantitative","scale":{"domain":[-2,7],"nice":false,"zero":false},"axis":{"orient":"top","values":[-2,-1,0,1,2,3,4,5,6,7],"title":"Déplacement horizontal (mm)","labelPadding":9,"titlePadding":7,"grid":true,"domain":false}},
   "y":{"field":"d","type":"quantitative","scale":{"domain":[0,70],"reverse":true,"nice":false,"zero":false},"axis":{"values":[0,10,20,30,40,50,60,70],"offset":-87.6,"title":"Profondeur (m)","titleX":-99,"titleY":173,"labelPadding":13,"grid":true,"domain":true}}
  },
  "layer":[
   {"data":{"name":"c3"},"mark":{"type":"line","strokeWidth":2.25},
    "encoding":{"order":{"field":"d","type":"quantitative"},"color":{"field":"s","type":"nominal","scale":{"domain":["Cas ref 3D","Cas ref 2D","v=0.2 3D","v=0.2 2D","v=0.4 3D","v=0.4 2D"],"range":["#ED7D31","#C55A11","#70AD47","#548235","#5B9BD5","#4472C4"]},
     "legend":{"title":null,"direction":"horizontal","columns":2,"legendX":95,"legendY":220,"padding":6,"clipHeight":24,"rowPadding":12.5,"columnPadding":25,"labelOffset":12,"symbolOffset":0,
      "encode":{"symbols":{"update":{
       "shape":{"signal":"indexof(datum.value,'3D')>=0 ? 'M-1.02,0H1.02M-0.18,0A0.18,0.18,0,1,1,0.18,0A0.18,0.18,0,1,1,-0.18,0' : 'M-1.02,0H1.02'"},
       "size":{"value":1600},"strokeWidth":{"value":2},"opacity":{"value":1},
       "strokeDash":{"signal":"indexof(datum.value,'3D')>=0 ? [1,0] : [5,4]"},
       "fill":{"signal":"indexof(datum.value,'2D')>=0 ? 'transparent' : indexof(datum.value,'ref')>=0 ? '#ED7D31' : indexof(datum.value,'0.2')>=0 ? '#70AD47' : '#5B9BD5'"},
       "stroke":{"signal":"indexof(datum.value,'ref')>=0 ? (indexof(datum.value,'3D')>=0 ? '#ED7D31' : '#C55A11') : indexof(datum.value,'0.2')>=0 ? (indexof(datum.value,'3D')>=0 ? '#70AD47' : '#548235') : (indexof(datum.value,'3D')>=0 ? '#5B9BD5' : '#4472C4')"}
      }}}}}}},
   {"data":{"name":"c3"},"mark":{"type":"point","filled":true,"size":80,"opacity":1,"shape":"circle","strokeWidth":0},
    "encoding":{"color":{"field":"s","type":"nominal","scale":{"domain":["Cas ref 3D","Cas ref 2D","v=0.2 3D","v=0.2 2D","v=0.4 3D","v=0.4 2D"],"range":["#ED7D31","#C55A11","#70AD47","#548235","#5B9BD5","#4472C4"]}}}},
   {"data":{"name":"c2"},"mark":{"type":"line","strokeWidth":2,"strokeDash":[5,4]},
    "encoding":{"order":{"field":"d","type":"quantitative"},"color":{"field":"s","type":"nominal","scale":{"domain":["Cas ref 3D","Cas ref 2D","v=0.2 3D","v=0.2 2D","v=0.4 3D","v=0.4 2D"],"range":["#ED7D31","#C55A11","#70AD47","#548235","#5B9BD5","#4472C4"]}}}},
   {"data":{"values":[{"x":0,"d":21.8}]},"mark":{"type":"point","shape":"circle","filled":false,"size":1764,"stroke":"black","strokeWidth":3,"opacity":1}},
   {"data":{"values":[{"x":-2.67,"d":69.1,"t":"(c)"}]},"mark":{"type":"text","fontWeight":"bold","fontSize":16,"color":"black"},"encoding":{"text":{"field":"t"}}}
  ]
 }
],"spacing":53,"bounds":"flush","resolve":{"scale":{"color":"independent"}}}
]
}
